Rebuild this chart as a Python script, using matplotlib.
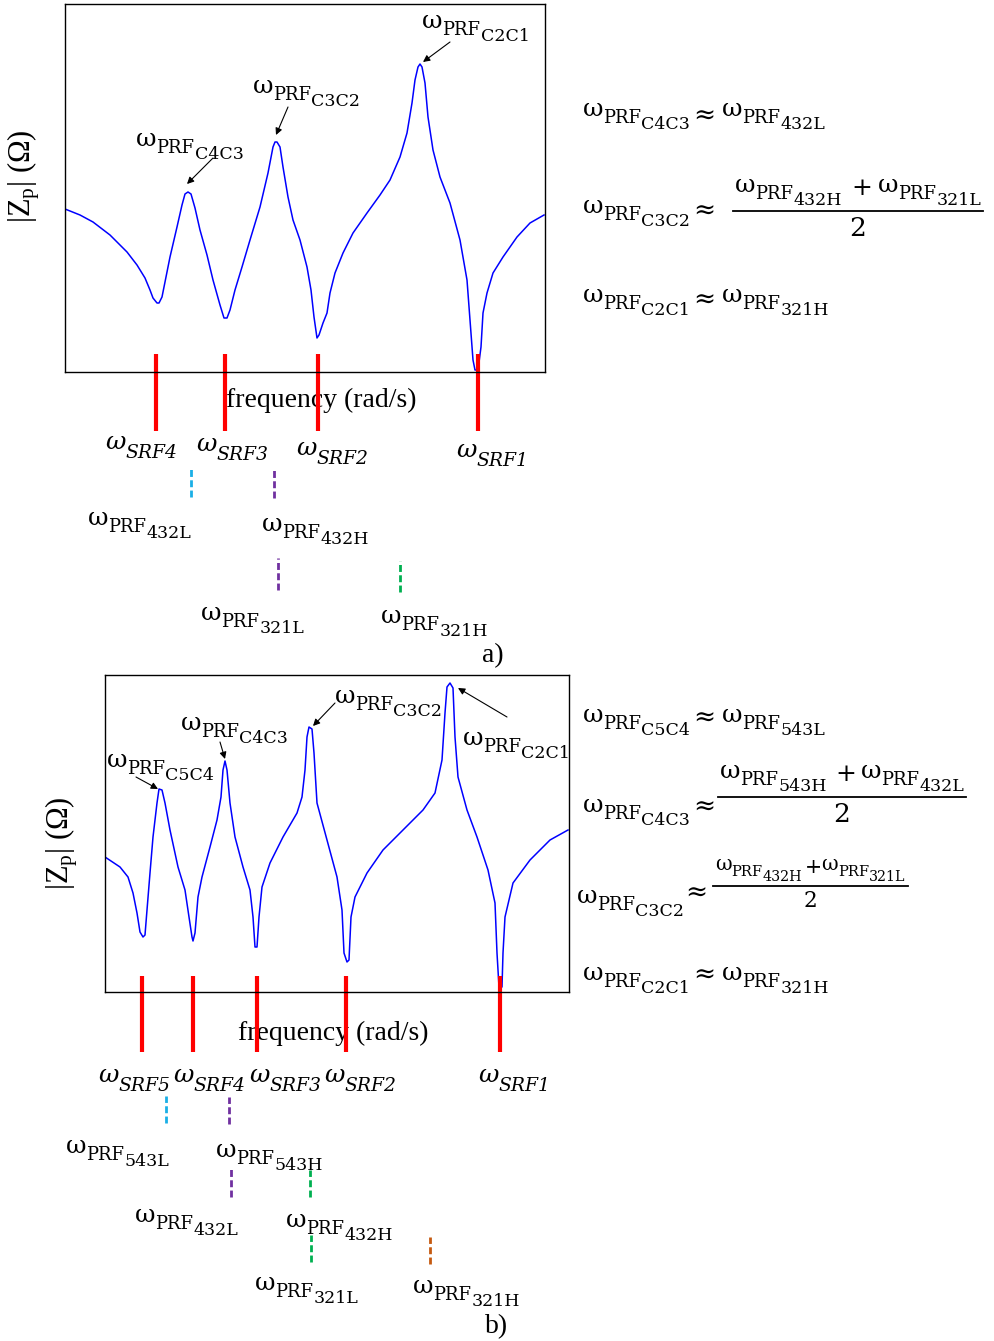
import matplotlib
matplotlib.use("Agg")
import matplotlib.pyplot as plt

SERIF = "DejaVu Serif"
TIMES = "Liberation Serif"
plt.rcParams["mathtext.fontset"] = "custom"
plt.rcParams["mathtext.rm"] = TIMES
plt.rcParams["mathtext.it"] = TIMES + ":italic"

# ---- panel a: |Zp| vs frequency (arbitrary units) ----
freq_a = [0, 15, 28, 45, 62, 72, 80, 85, 88, 92, 94, 97, 100, 105, 112, 117, 120, 123, 126, 130,
          135, 142, 148, 155, 159, 162, 165, 170, 177, 185, 195, 203, 208, 210, 212, 215, 218, 223,
          228, 235, 242, 246, 249, 252, 254, 258, 262, 265, 270, 278, 288, 302, 315, 325, 335, 342,
          347, 350, 353, 355, 357, 360, 363, 368, 375, 385, 395, 402, 405, 408, 410, 413, 416, 418,
          422, 428, 438, 452, 465, 479]
zp_a = [163, 157, 150, 137, 120, 107, 94, 82, 74, 69, 69, 75, 90, 115, 145, 167, 178, 180, 178, 164,
        142, 117, 92, 67, 54, 54, 62, 82, 105, 132, 165, 199, 225, 230, 230, 225, 205, 175,
        152, 132, 105, 82, 55, 34, 37, 49, 59, 79, 99, 119, 139, 159, 177, 192, 215, 239,
        269, 292, 305, 308, 305, 289, 255, 222, 195, 169, 132, 92, 52, 12, 2, 2, 25, 59,
        79, 99, 115, 135, 149, 157]
srf_a = [91, 160, 253, 413]
prf_a = [126, 209, 213, 335]
prf_a_top = [-95, -96, -186, -189]
prf_a_bot = [-125, -126, -218, -220]
prf_a_col = ["#1AAFE6", "#7030A0", "#7030A0", "#00B050"]

# ---- panel b ----
freq_b = [0, 15, 23, 28, 32, 35, 38, 40, 42, 45, 48, 52, 54, 57, 60, 65, 73, 80, 84, 87, 88, 90,
          93, 97, 105, 112, 116, 118, 120, 122, 125, 130, 138, 145, 148, 150, 152, 154, 157, 165,
          178, 192, 197, 200, 202, 204, 207, 209, 212, 222, 232, 237, 239, 242, 244, 246, 250,
          262, 278, 298, 318, 330, 337, 340, 342, 345, 348, 350, 353, 362, 372, 383, 390, 392,
          394, 397, 398, 400, 408, 425, 445, 463]
zp_b = [135, 125, 115, 99, 79, 60, 55, 57, 82, 119, 155, 189, 203, 202, 189, 162, 125, 102, 75, 55,
        51, 59, 95, 115, 145, 172, 195, 222, 231, 222, 189, 155, 125, 102, 75, 45, 45, 75, 105,
        129, 155, 179, 195, 222, 255, 265, 263, 239, 189, 152, 115, 82, 39, 30, 32, 75, 95,
        119, 142, 162, 182, 199, 232, 279, 305, 309, 304, 255, 215, 182, 155, 122, 89, 39,
        5, 5, 39, 75, 109, 132, 152, 162]
srf_b = [37, 88, 152, 241, 395]
prf_b = [61, 124, 126, 205, 206, 325]
prf_b_top = [-104, -105, -176, -178, -243, -245]
prf_b_bot = [-131, -132, -205, -205, -270, -272]
prf_b_col = ["#1AAFE6", "#7030A0", "#7030A0", "#00B050", "#00B050", "#C55A11"]

W, H = 995, 1341
fig = plt.figure(figsize=(W / 100, H / 100), dpi=100)
R = fig.canvas.get_renderer()

ov = fig.add_axes([0, 0, 1, 1], zorder=1)
ov.set_xlim(0, W)
ov.set_ylim(H, 0)
ov.axis("off")


def panel(left, top, w, h):
    ax = fig.add_axes([left / W, 1 - (top + h) / H, w / W, h / H], zorder=2)
    ax.set_xlim(0, w)
    ax.set_ylim(0, h)
    ax.set_xticks([])
    ax.set_yticks([])
    ax.patch.set_visible(False)
    for s in ax.spines.values():
        s.set_linewidth(1.0)
    return ax


def draw(ax, f, z, srf, prf, top, bot, cols, srf_y):
    ax.plot(f, z, color="#0000FF", lw=1.1)
    lc = ax.vlines(srf, srf_y[1], srf_y[0], color="red", lw=3)
    lc.set_clip_on(False)
    for x, t, b, c in zip(prf, top, bot, cols):
        ln = ax.vlines(x, b, t, color=c, lw=2, linestyles=(0, (2.5, 1.2)))
        ln.set_clip_on(False)


def put(x, y, parts):
    for s, size, drop, style in parts:
        t = ov.text(x, y + drop, s, fontsize=size, fontstyle=style, family=SERIF,
                    va="baseline", ha="left")
        x += t.get_window_extent(R).width
    return x


def prf_lbl(x, y, sub, k=1.0):
    return put(x, y, [("ω", 18 * k, 0, "normal"), ("PRF", 13 * k, 7 * k, "normal"),
                      (sub, 12.5 * k, 13 * k, "normal")])


def srf_lbl(x, y, n):
    return put(x, y, [("ω", 18, 0, "italic"), ("SRF" + n, 13.5, 9, "italic")])


def approx(x, yc, size=19):
    ov.text(x, yc, "≈", ha="left", va="center", fontsize=size, family=SERIF)


def frac(x0, ybar, s1, s2, k=1.0, gap=7):
    yb = ybar - 19 * k
    x = prf_lbl(x0 + 2, yb, s1, k)
    x = put(x + gap * k, yb + 3 * k, [("+", 18 * k, 0, "normal")])
    x = prf_lbl(x + gap * k - 3, yb, s2, k)
    ov.plot([x0, x + 2], [ybar, ybar], color="black", lw=1.3)
    ov.text((x0 + x + 2) / 2, ybar + 25 * k, "2", ha="center", va="baseline",
            fontsize=19 * k, family=SERIF)


def arrow(tail, head):
    ov.annotate("", xy=head, xytext=tail,
                arrowprops=dict(arrowstyle="-|>", color="black", lw=0.8,
                                mutation_scale=10, shrinkA=0, shrinkB=0))


# ---------------- panel a ----------------
ax_a = panel(65, 4, 480, 368)
draw(ax_a, freq_a, zp_a, srf_a, prf_a, prf_a_top, prf_a_bot, prf_a_col, (18, -59))

prf_lbl(422, 28, "C2C1")
prf_lbl(253, 93, "C3C2")
prf_lbl(136, 146, "C4C3")
arrow((450, 42), (423, 62))
arrow((288, 107), (276, 135))
arrow((213, 158), (187, 184))

ov.text(24, 176, r"|Z$_\mathrm{p}$| (Ω)", rotation=90, ha="center", va="center",
        fontsize=22, family=TIMES)
ov.text(321, 400, "frequency (rad/s)", ha="center", va="center", fontsize=20, family=TIMES)

for x, y, n in [(105, 449, "4"), (196, 451, "3"), (296, 455, "2"), (456, 457, "1")]:
    srf_lbl(x, y, n)
for x, y, s in [(88, 525, "432L"), (262, 531, "432H"), (201, 620, "321L"), (381, 623, "321H")]:
    prf_lbl(x, y, s)
ov.text(482, 662, "a)", ha="left", va="baseline", fontsize=20, family=TIMES)

prf_lbl(583, 116, "C4C3")
approx(693, 116)
prf_lbl(722, 116, "432L")
prf_lbl(583, 213, "C3C2")
approx(693, 211)
frac(733, 211, "432H", "321L", gap=9)
prf_lbl(583, 302, "C2C1")
approx(693, 300)
prf_lbl(722, 302, "321H")

# ---------------- panel b ----------------
ax_b = panel(105, 675, 464, 317)
draw(ax_b, freq_b, zp_b, srf_b, prf_b, prf_b_top, prf_b_bot, prf_b_col, (16, -60))

prf_lbl(335, 703, "C3C2")
prf_lbl(181, 730, "C4C3")
prf_lbl(107, 767, "C5C4")
prf_lbl(463, 745, "C2C1")
arrow((335, 703), (313, 726))
arrow((220, 742), (225, 759))
arrow((136, 777), (158, 789))
arrow((507, 717), (458, 688))

ov.text(62, 843, r"|Z$_\mathrm{p}$| (Ω)", rotation=90, ha="center", va="center",
        fontsize=22, family=TIMES)
ov.text(333, 1033, "frequency (rad/s)", ha="center", va="center", fontsize=20, family=TIMES)

for x, n in [(98, "5"), (173, "4"), (249, "3"), (324, "2"), (478, "1")]:
    srf_lbl(x, 1082, n)
for x, y, s in [(66, 1153, "543L"), (216, 1157, "543H"), (135, 1222, "432L"),
                (286, 1227, "432H"), (255, 1290, "321L"), (413, 1293, "321H")]:
    prf_lbl(x, y, s)
ov.text(485, 1333, "b)", ha="left", va="baseline", fontsize=20, family=TIMES)

prf_lbl(583, 722, "C5C4")
approx(693, 718)
prf_lbl(722, 722, "543L")
prf_lbl(583, 812, "C4C3")
approx(693, 807)
frac(718, 797, "543H", "432L", gap=8)
prf_lbl(577, 903, "C3C2")
approx(685, 893)
frac(713, 886, "432H", "321L", k=0.82, gap=3)
prf_lbl(583, 980, "C2C1")
approx(693, 975)
prf_lbl(722, 980, "321H")

fig.savefig("out.png", dpi=100, facecolor="white")
